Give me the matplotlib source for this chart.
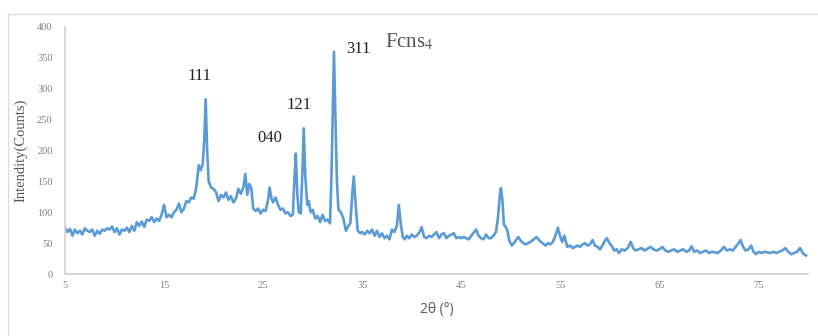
import matplotlib.pyplot as plt
from matplotlib.patches import Rectangle

# XRD pattern
two_theta = [
    5.0, 5.25, 5.5, 5.75, 6.0, 6.25, 6.5, 6.75, 7.0, 7.25, 7.5, 7.75, 8.0, 8.25, 8.5, 8.75,
    9.0, 9.25, 9.5, 9.75, 10.0, 10.25, 10.5, 10.75, 11.0, 11.25, 11.5, 11.75, 12.0, 12.25,
    12.5, 12.75, 13.0, 13.25, 13.5, 13.75, 14.0, 14.25, 14.5, 14.75, 15.0, 15.25, 15.5,
    15.75, 16.0, 16.25, 16.5, 16.75, 17.0, 17.25, 17.5, 17.75, 18.0, 18.25, 18.5, 18.7,
    18.9, 19.05, 19.2, 19.35, 19.5, 19.75, 20.0, 20.25, 20.5, 20.75, 21.0, 21.25, 21.5,
    21.75, 22.0, 22.25, 22.5, 22.75, 23.0, 23.2, 23.4, 23.6, 23.8, 24.0, 24.25, 24.5,
    24.75, 25.0, 25.25, 25.5, 25.65, 25.85, 26.0, 26.25, 26.5, 26.75, 27.0, 27.25, 27.5,
    27.75, 28.0, 28.15, 28.3, 28.45, 28.6, 28.8, 28.95, 29.1, 29.25, 29.45, 29.6, 29.8,
    30.0, 30.25, 30.5, 30.75, 31.0, 31.25, 31.5, 31.75, 31.9, 32.0, 32.15, 32.3, 32.45,
    32.6, 32.85, 33.1, 33.35, 33.6, 33.8, 34.0, 34.15, 34.35, 34.55, 34.8, 35.0, 35.25,
    35.5, 35.75, 36.0, 36.25, 36.5, 36.75, 37.0, 37.25, 37.5, 37.75, 38.0, 38.25, 38.5,
    38.7, 38.9, 39.1, 39.3, 39.5, 39.75, 40.0, 40.25, 40.5, 40.8, 41.0, 41.25, 41.5,
    41.75, 42.0, 42.25, 42.5, 42.75, 43.0, 43.25, 43.5, 43.75, 44.0, 44.25, 44.5, 44.75,
    45.0, 45.25, 45.5, 45.75, 46.0, 46.3, 46.5, 46.75, 47.0, 47.25, 47.5, 47.75, 48.0,
    48.25, 48.5, 48.7, 48.9, 49.0, 49.15, 49.3, 49.5, 49.65, 49.85, 50.1, 50.4, 50.75,
    51.0, 51.25, 51.5, 51.75, 52.0, 52.3, 52.6, 52.9, 53.2, 53.5, 53.75, 54.0, 54.25,
    54.5, 54.75, 55.0, 55.2, 55.4, 55.7, 56.0, 56.25, 56.5, 56.75, 57.0, 57.25, 57.5,
    57.75, 58.0, 58.25, 58.5, 58.75, 59.0, 59.25, 59.5, 59.7, 59.95, 60.2, 60.45, 60.7,
    60.9, 61.2, 61.5, 61.8, 62.1, 62.35, 62.6, 62.9, 63.2, 63.5, 63.8, 64.1, 64.4, 64.7,
    65.0, 65.3, 65.6, 65.9, 66.2, 66.5, 66.8, 67.1, 67.4, 67.7, 68.0, 68.25, 68.5, 68.8,
    69.1, 69.4, 69.7, 70.0, 70.3, 70.6, 70.9, 71.2, 71.5, 71.8, 72.1, 72.4, 72.7, 73.0,
    73.2, 73.45, 73.7, 74.0, 74.25, 74.5, 74.75, 75.0, 75.3, 75.6, 75.9, 76.2, 76.5,
    76.8, 77.1, 77.4, 77.7, 78.0, 78.3, 78.6, 78.9, 79.2, 79.5, 79.8,
]
counts = [
    75, 68, 73, 62, 72, 66, 70, 64, 74, 70, 68, 72, 62, 70, 65, 72,
    70, 74, 72, 77, 68, 74, 64, 72, 70, 75, 68, 78, 70, 84,
    78, 85, 76, 88, 86, 92, 84, 90, 86, 96, 112, 92, 96,
    92, 100, 104, 114, 100, 106, 118, 116, 124, 122, 140, 176, 168,
    178, 215, 283, 200, 150, 140, 138, 132, 118, 128, 124, 132, 120,
    126, 116, 122, 138, 130, 140, 162, 128, 146, 140, 106, 102, 106,
    98, 104, 102, 120, 140, 122, 116, 124, 112, 104, 106, 98, 100,
    94, 96, 150, 195, 130, 100, 98, 160, 236, 160, 112, 118, 100,
    104, 90, 94, 84, 96, 86, 88, 82, 160, 240, 360, 250, 150,
    104, 100, 90, 70, 78, 82, 130, 158, 110, 70, 66, 68, 64,
    70, 66, 72, 62, 70, 60, 66, 58, 62, 56, 72, 68, 78,
    112, 80, 60, 56, 62, 58, 64, 60, 62, 68, 76, 60, 58,
    62, 60, 64, 68, 58, 64, 66, 58, 62, 64, 66, 58, 60,
    58, 60, 58, 56, 62, 68, 72, 62, 58, 56, 64, 58, 58,
    62, 68, 90, 130, 139, 120, 80, 76, 70, 54, 46, 52, 60,
    54, 50, 48, 50, 52, 56, 60, 54, 50, 46, 50, 48, 52,
    62, 75, 60, 52, 62, 44, 46, 42, 44, 46, 44, 48, 50,
    46, 48, 55, 46, 44, 40, 46, 54, 58, 50, 45, 38, 40,
    34, 40, 38, 42, 52, 42, 38, 40, 42, 38, 41, 44, 40, 38,
    40, 44, 38, 36, 38, 40, 36, 38, 40, 36, 38, 45, 36, 38,
    34, 36, 38, 34, 36, 35, 34, 38, 44, 38, 40, 38, 44, 50,
    55, 44, 38, 40, 46, 36, 32, 36, 34, 36, 35, 34, 36,
    34, 36, 38, 42, 36, 32, 34, 36, 42, 33, 30,
]

peak_labels = ['111', '040', '121', '311']
peak_x = [18.6, 25.7, 28.6, 34.6]
peak_y = [321, 220, 273, 365]

x_ticks = [5, 15, 25, 35, 45, 55, 65, 75]
y_ticks = [0, 50, 100, 150, 200, 250, 300, 350, 400]

serif = ['Liberation Serif', 'DejaVu Serif']
grey = '#808080'

fig = plt.figure(figsize=(8.18, 3.36), dpi=100)
fig.patches.append(Rectangle((8 / 818, -0.05), 1.0, (336 - 14) / 336 + 0.05,
                             transform=fig.transFigure, fill=False,
                             edgecolor='#dcdcdc', linewidth=1.0))

ax = fig.add_axes([65 / 818, 62 / 336, 743 / 818, 247 / 336])
ax.plot(two_theta, counts, color='#5b9bd5', linewidth=1.9)

ax.set_xlim(5, 80)
ax.set_ylim(0, 400)
ax.set_xticks(x_ticks)
ax.set_yticks(y_ticks)
ax.tick_params(length=0, labelsize=7.5, labelcolor=grey)
ax.tick_params(axis='y', pad=9)
ax.tick_params(axis='x', pad=5)
for lab in ax.get_xticklabels() + ax.get_yticklabels():
    lab.set_family(serif)

for side in ['top', 'right']:
    ax.spines[side].set_visible(False)
for side in ['left', 'bottom']:
    ax.spines[side].set_color('#d0d0d0')
    ax.spines[side].set_linewidth(1.2)

ax.set_ylabel('Intendity(Counts)', family=serif, fontsize=10.5, color='#555555', labelpad=7)
ax.set_xlabel('2θ (°)', family=['Open Sans', 'DejaVu Sans'], fontsize=10, color='#595959', labelpad=9)

for lab, x, y in zip(peak_labels, peak_x, peak_y):
    ax.text(x, y, lab, family=serif, fontsize=12, color='#222222', ha='center', va='center')
ax.text(37.3, 375, r'Fcns$_4$', family=serif, fontsize=15, color='#555555',
        ha='left', va='center', math_fontfamily='stix')

fig.savefig('out.png', dpi=100)
